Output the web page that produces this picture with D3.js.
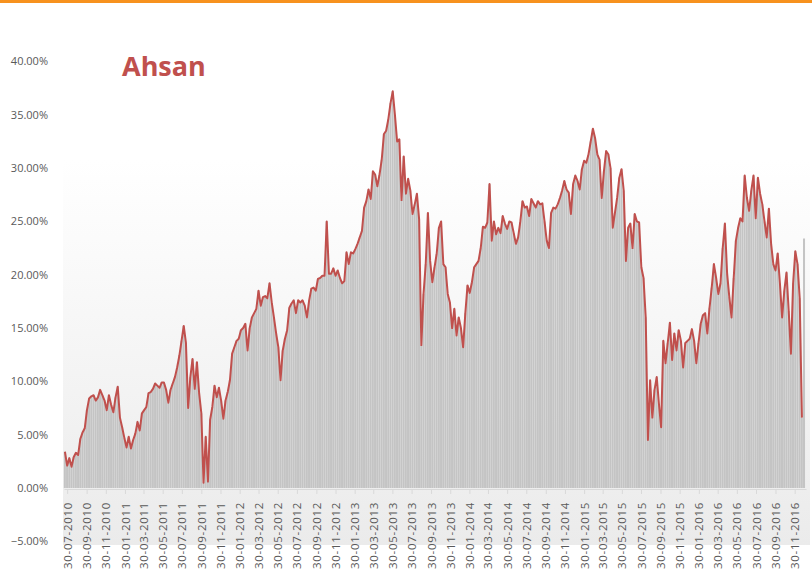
<!DOCTYPE html>
<html>
<head>
<meta charset="utf-8">
<script src="https://cdn.jsdelivr.net/npm/d3@7"></script>
<style>
  body { margin: 0; background: #fff; }
  svg { display: block; }
  text { font-family: "Open Sans", "Liberation Sans", sans-serif; }
</style>
</head>
<body>
<svg id="chart" width="812" height="575"></svg>
<script>
const title = "Ahsan";
const firstWeek = "23-07-2010";

// weekly values, in %
const ratio = [
  3.4, 2.1, 2.8, 2.0, 2.9, 3.3, 3.1, 4.6, 5.2, 5.6,
  7.3, 8.4, 8.6, 8.7, 8.2, 8.5, 9.2, 8.7, 8.2, 7.3,
  8.7, 7.8, 7.1, 8.5, 9.5, 6.6, 5.7, 4.7, 3.8, 4.8,
  3.7, 4.5, 5.1, 6.2, 5.4, 7.0, 7.3, 7.6, 8.9, 9.0,
  9.3, 9.8, 9.6, 9.4, 9.9, 9.9, 9.2, 8.0, 9.2, 9.8,
  10.4, 11.3, 12.4, 13.8, 15.2, 13.6, 7.5, 10.4, 12.1, 9.3,
  11.8, 8.9, 7.0, 0.5, 4.8, 0.6, 6.4, 7.6, 9.6, 8.5,
  9.4, 8.2, 6.5, 8.2, 9.0, 10.1, 12.6, 13.2, 13.8, 14.0,
  14.8, 15.0, 15.4, 12.9, 15.0, 16.0, 16.4, 16.8, 18.5, 17.1,
  17.9, 18.0, 17.8, 19.2, 17.4, 16.0, 14.5, 13.2, 10.1, 12.9,
  14.0, 14.8, 16.9, 17.3, 17.6, 16.4, 17.6, 17.4, 17.6, 17.1,
  16.0, 17.6, 18.7, 18.8, 18.5, 19.6, 19.7, 19.9, 19.9, 25.0,
  20.1, 20.1, 20.6, 19.9, 20.4, 19.7, 19.2, 19.4, 22.1, 21.0,
  22.1, 22.0, 22.4, 22.9, 23.5, 24.1, 26.3, 26.9, 28.0, 27.1,
  29.7, 29.4, 28.3, 29.4, 30.8, 33.2, 33.5, 34.6, 36.1, 37.2,
  35.0, 32.5, 32.7, 27.0, 31.1, 27.6, 29.0, 27.9, 25.7, 26.6,
  27.6, 25.2, 13.4, 18.2, 21.0, 25.8, 21.3, 19.3, 20.7, 22.0,
  24.4, 25.0, 21.0, 20.7, 18.2, 17.4, 15.0, 16.8, 14.3, 16.0,
  15.0, 13.2, 16.4, 19.0, 18.3, 19.3, 20.7, 21.0, 21.3, 22.5,
  24.5, 24.4, 24.9, 28.5, 23.2, 25.0, 23.8, 24.4, 23.9, 25.5,
  24.8, 24.3, 25.0, 24.9, 23.9, 22.9, 23.5, 25.0, 26.9, 26.3,
  26.4, 25.5, 27.1, 26.7, 26.3, 26.9, 26.6, 26.7, 25.0, 23.2,
  22.5, 25.8, 26.3, 26.2, 26.6, 27.2, 27.9, 28.8, 28.0, 27.7,
  25.7, 28.5, 29.3, 28.8, 28.0, 29.9, 30.7, 30.5, 31.3, 32.5,
  33.7, 32.8, 31.3, 30.8, 27.2, 29.7, 31.6, 31.3, 30.0, 24.4,
  25.8, 27.2, 29.1, 29.9, 27.9, 21.3, 24.4, 24.8, 22.5, 25.7,
  25.0, 24.9, 20.7, 19.7, 16.0, 4.5, 10.1, 6.6, 9.2, 10.4,
  7.9, 5.7, 13.8, 11.7, 13.6, 15.5, 12.0, 14.5, 12.9, 14.8,
  13.8, 11.3, 13.6, 13.8, 14.0, 14.9, 13.8, 11.7, 13.6, 15.4,
  16.2, 16.4, 14.5, 16.9, 18.8, 21.0, 19.7, 18.2, 19.2, 22.5,
  24.8, 20.1, 17.9, 16.0, 19.7, 23.2, 24.4, 25.3, 25.0, 29.3,
  27.2, 26.0, 27.9, 29.3, 25.3, 29.1, 27.6, 26.6, 25.0, 23.5,
  26.2, 22.9, 21.0, 20.4, 22.0, 19.2, 16.0, 18.5, 20.2, 16.6,
  12.6, 19.2, 22.2, 21.0, 17.8, 6.6, 23.4
];

const tickLabels = [
  "30-07-2010", "30-09-2010", "30-11-2010", "30-01-2011", "30-03-2011", "30-05-2011",
  "30-07-2011", "30-09-2011", "30-11-2011", "30-01-2012", "30-03-2012", "30-05-2012",
  "30-07-2012", "30-09-2012", "30-11-2012", "30-01-2013", "30-03-2013", "30-05-2013",
  "30-07-2013", "30-09-2013", "30-11-2013", "30-01-2014", "30-03-2014", "30-05-2014",
  "30-07-2014", "30-09-2014", "30-11-2014", "30-01-2015", "30-03-2015", "30-05-2015",
  "30-07-2015", "30-09-2015", "30-11-2015", "30-01-2016", "30-03-2016", "30-05-2016",
  "30-07-2016", "30-09-2016", "30-11-2016"
];

const yTicks = [-5, 0, 5, 10, 15, 20, 25, 30, 35, 40];

const parse = d3.timeParse("%d-%m-%Y");
const fmt = d3.timeFormat("%d-%m-%Y");
const start = parse(firstWeek);
const weeks = ratio.map((_, i) => d3.timeWeek.offset(start, i));
const rows = weeks.map((d, i) => ({ date: d, v: ratio[i] }));

const svg = d3.select("#chart");

// orange strip on top
svg.append("rect").attr("x", 0).attr("y", 0).attr("width", 812).attr("height", 3).attr("fill", "#f7921e");

const x = d3.scaleTime()
  .domain([parse("20-07-2010"), parse("05-01-2017")])
  .range([64, 806]);

const y = d3.scaleLinear()
  .domain([-5, 40])
  .range([541.3, 61.5]);

// plot background gradient
const defs = svg.append("defs");
const grad = defs.append("linearGradient").attr("id", "bg").attr("x1", 0).attr("y1", 0).attr("x2", 0).attr("y2", 1);
grad.append("stop").attr("offset", "0%").attr("stop-color", "#ffffff");
grad.append("stop").attr("offset", "100%").attr("stop-color", "#ebebeb");
svg.append("rect").attr("x", 63).attr("y", 160).attr("width", 747).attr("height", 385).attr("fill", "url(#bg)");

// title
svg.append("text")
  .attr("x", 122).attr("y", 76)
  .attr("font-size", 27).attr("font-weight", "bold")
  .attr("fill", "#c0504d")
  .text(title);

// y labels
svg.append("g").selectAll("text")
  .data(yTicks)
  .join("text")
  .attr("x", 48)
  .attr("y", d => y(d))
  .attr("dy", "0.35em")
  .attr("text-anchor", "end")
  .attr("font-size", 11)
  .attr("fill", "#595959")
  .text(d => d3.format(".2f")(d) + "%");

// bars
const step = x(d3.timeWeek.offset(start, 1)) - x(start);
svg.append("g").selectAll("rect")
  .data(rows)
  .join("rect")
  .attr("x", d => x(d.date) - step / 2)
  .attr("width", step * 0.92)
  .attr("y", d => y(d.v))
  .attr("height", d => y(0) - y(d.v))
  .attr("fill", "#c4c4c4");

// x axis
const xAxis = d3.axisBottom(x)
  .tickValues(tickLabels.map(parse))
  .tickFormat(fmt)
  .tickSize(5)
  .tickSizeOuter(0);

const gx = svg.append("g")
  .attr("transform", `translate(0,${y(0) + 1})`)
  .call(xAxis);
gx.select(".domain").attr("stroke", "#d9d9d9");
gx.selectAll(".tick line").attr("stroke", "#d9d9d9");
gx.selectAll(".tick text")
  .attr("transform", "rotate(-90)")
  .attr("x", -13)
  .attr("y", 0)
  .attr("dy", "0.35em")
  .attr("text-anchor", "end")
  .attr("font-size", 11.5)
  .attr("letter-spacing", "0.7px")
  .attr("fill", "#595959");

// red line (it stops one point before the last bar)
const line = d3.line()
  .x(d => x(d.date))
  .y(d => y(d.v));

svg.append("path")
  .datum(rows.slice(0, -1))
  .attr("d", line)
  .attr("fill", "none")
  .attr("stroke", "#c0504d")
  .attr("stroke-width", 2)
  .attr("stroke-linejoin", "round");
</script>
</body>
</html>
